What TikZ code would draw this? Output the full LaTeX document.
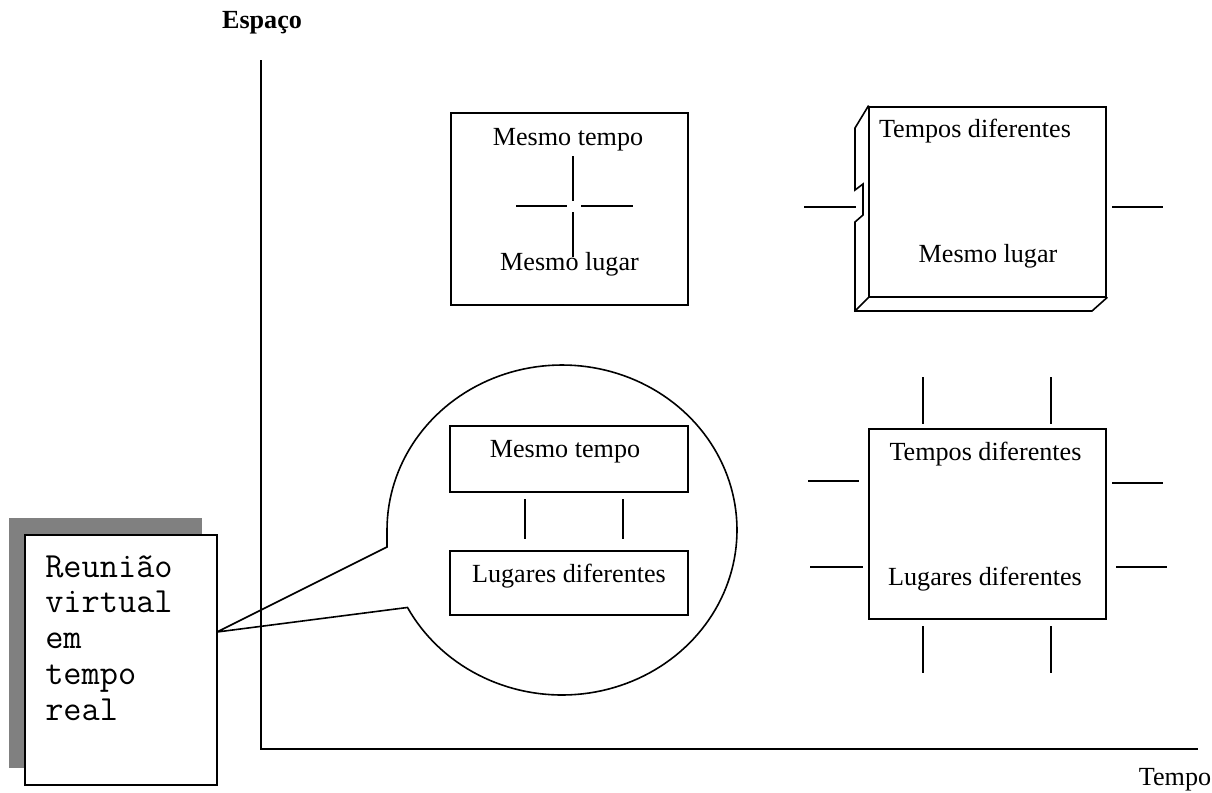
\documentclass[tikz,border=0pt]{standalone}
\usepackage{fontspec}
\setmainfont{Liberation Serif}
\usetikzlibrary{fit}
\tikzset{
  ln/.style={line width=1.2pt, line cap=rect},
  panel/.style={draw, line width=1.2pt, rectangle, inner sep=0pt},
  lbl/.style={font=\fontsize{19.6}{23}\selectfont, anchor=base, inner sep=0pt},
}
\begin{document}
\begin{tikzpicture}[x=0.75pt,y=-0.75pt]
\useasboundingbox (0,0) rectangle (1212,792);

% axes
\coordinate (origin) at (261,749);
\coordinate (ytop) at (261,61);
\coordinate (xend) at (1197,749);
\draw[ln] (ytop) -- (origin) -- (xend);
\node[lbl, font=\bfseries\fontsize{19.6}{23}\selectfont] (espaco) at (262,29) {Espaço};
\node[lbl] (tempo) at (1175,785) {Tempo};

% same time, same place
\node[panel, fit={(451,113)(688,305)}] (b1) {};
\node[lbl] (b1t) at (568,145) {Mesmo tempo};
\node[lbl] (b1b) at (569.5,270) {Mesmo lugar};
\draw[ln] (573,157) -- (573,200);
\draw[ln] (573,213) -- (573,256);
\draw[ln] (517,206) -- (566,206);
\draw[ln] (582,206) -- (632,206);

% different times, same place (slab)
\node[panel, fit={(869,107)(1106,297)}] (b2) {};
\draw[ln, line join=miter] (b2.north west) -- (855,128) -- (855,190) -- (863,184) -- (863,215)
  -- (855,222) -- (855,311) -- (1092,311) -- (b2.south east);
\draw[ln] (855,311) -- (b2.south west);
\node[lbl] (b2t) at (975,137) {Tempos diferentes};
\node[lbl] (b2b) at (988,262) {Mesmo lugar};
\draw[ln] (805,207) -- (855,207);
\draw[ln] (1113,207) -- (1162,207);

% different times, different places
\node[panel, fit={(869,429)(1106,619)}] (b4) {};
\node[lbl] (b4t) at (985.5,460) {Tempos diferentes};
\node[lbl] (b4b) at (985,585) {Lugares diferentes};
\foreach \sx in {923,1051}{
  \draw[ln] (\sx,378) -- (\sx,423);
  \draw[ln] (\sx,627) -- (\sx,672);
}
\draw[ln] (809,481) -- (858,481);
\draw[ln] (811,567) -- (862,567);
\draw[ln] (1113,483) -- (1162,483);
\draw[ln] (1117,567) -- (1166,567);

% callout bubble
\coordinate (tip) at (217,632);
\draw[ln, line cap=butt, line join=miter] (tip) -- (387,547) -- (387,530)
  -- plot[domain=180:512, samples=160] ({562+175*cos(\x)},{530+165*sin(\x)}) -- cycle;
\node[panel, fit={(450,426)(688,492)}] (b5) {};
\node[panel, fit={(450,551)(688,615)}] (b6) {};
\node[lbl] (b5t) at (565,457) {Mesmo tempo};
\node[lbl] (b6t) at (569,582) {Lugares diferentes};
\draw[ln] (525,500) -- (525,538);
\draw[ln] (623,500) -- (623,538);

% note with shadow
\fill[black!50] (9,518) rectangle (202,768);
\node[panel, fill=white, fit={(25,535)(217,785)}] (note) {};
\node[anchor=base west, align=left, inner sep=0pt,
      font=\ttfamily\fontsize{26.5}{26.85}\selectfont] (notetext) at (45,720.2)
  {Reunião\\virtual\\em\\tempo\\real};
\end{tikzpicture}
\end{document}
